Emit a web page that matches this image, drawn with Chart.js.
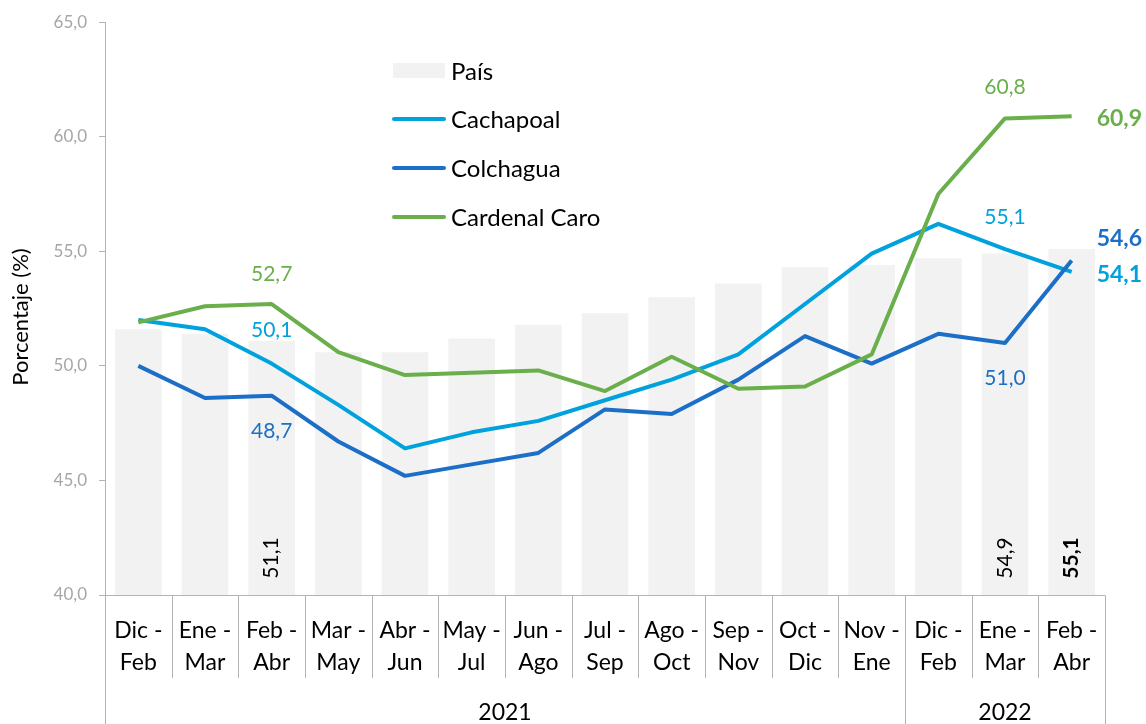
<!DOCTYPE html>
<html><head><meta charset="utf-8">
<script src="https://cdn.jsdelivr.net/npm/chart.js@4.4.0/dist/chart.umd.min.js"></script>
<style>html,body{margin:0;padding:0;background:#fff;}#wrap{width:1146px;height:724px;position:relative;}</style>
</head><body><div id="wrap"><canvas id="c" width="1146" height="724"></canvas></div>
<script>
// ---- data ----
const catLine1 = ['Dic -','Ene -','Feb -','Mar -','Abr -','May -','Jun -','Jul -','Ago -','Sep -','Oct -','Nov -','Dic -','Ene -','Feb -'];
const catLine2 = ['Feb','Mar','Abr','May','Jun','Jul','Ago','Sep','Oct','Nov','Dic','Ene','Feb','Mar','Abr'];
const years = ['2021','2022'];
const yearSpans = [12, 3];
const pais = [51.6,51.4,51.1,50.6,50.6,51.2,51.8,52.3,53.0,53.6,54.3,54.4,54.7,54.9,55.1];
const cachapoal = [52.0,51.6,50.1,48.3,46.4,47.1,47.6,48.5,49.4,50.5,52.7,54.9,56.2,55.1,54.1];
const colchagua = [50.0,48.6,48.7,46.7,45.2,45.7,46.2,48.1,47.9,49.4,51.3,50.1,51.4,51.0,54.6];
const cardenalCaro = [51.9,52.6,52.7,50.6,49.6,49.7,49.8,48.9,50.4,49.0,49.1,50.5,57.5,60.8,60.9];
const yTicks = [40,45,50,55,60,65];
const yTitle = 'Porcentaje (%)';

// ---- styles ----
const FONT = 'Lato';
const C_PAIS = '#f2f2f2', C_CACH = '#00a2de', C_COLC = '#1c6fc6', C_CARD = '#6aaf4c';
const AXIS = '#b3b3b3';
const fmt = v => v.toFixed(1).replace('.', ',');

// labels: dataset index, point index, dx, dy, align, bold, size
const lineLabels = [
  {ds:3, i:2, dx:0, dy:-30, align:'center', bold:false, size:21},
  {ds:1, i:2, dx:0, dy:-33, align:'center', bold:false, size:21},
  {ds:2, i:2, dx:0, dy:36, align:'center', bold:false, size:21},
  {ds:3, i:13, dx:0, dy:-31, align:'center', bold:false, size:21},
  {ds:1, i:13, dx:0, dy:-32, align:'center', bold:false, size:21},
  {ds:2, i:13, dx:0, dy:35, align:'center', bold:false, size:21},
  {ds:3, i:14, dx:25, dy:2, align:'left', bold:true, size:23},
  {ds:2, i:14, dx:25, dy:-22, align:'left', bold:true, size:23},
  {ds:1, i:14, dx:25, dy:3, align:'left', bold:true, size:23}
];
const barLabels = [
  {i:2, bold:false}, {i:13, bold:false}, {i:14, bold:true}
];

const decor = {
  id: 'decor',
  afterDraw(chart) {
    const ctx = chart.ctx, ca = chart.chartArea;
    const xs = chart.scales.x, ys = chart.scales.y;
    const n = catLine1.length;
    const H = chart.height;
    ctx.save();
    // x axis line
    ctx.strokeStyle = AXIS; ctx.lineWidth = 1;
    const yb = Math.round(ca.bottom) + 0.5;
    ctx.beginPath(); ctx.moveTo(ca.left, yb); ctx.lineTo(ca.right, yb); ctx.stroke();
    // separators
    const bounds = [];
    for (let i = 0; i <= n; i++) {
      let x;
      if (i === 0) x = ca.left; else if (i === n) x = ca.right;
      else x = (xs.getPixelForValue(i - 1) + xs.getPixelForValue(i)) / 2;
      bounds.push(x);
    }
    const yearBounds = [0]; yearSpans.reduce((a, s) => { yearBounds.push(a + s); return a + s; }, 0);
    bounds.forEach((x, i) => {
      const long = yearBounds.includes(i);
      const px = Math.round(x) + 0.5;
      ctx.beginPath(); ctx.moveTo(px, yb); ctx.lineTo(px, long ? H : 678); ctx.stroke();
    });
    // y axis extension
    const lx = Math.round(ca.left) + 0.5;
    ctx.beginPath(); ctx.moveTo(lx, ca.bottom); ctx.lineTo(lx, H); ctx.stroke();
    // category labels
    ctx.fillStyle = '#000';
    ctx.font = `23px ${FONT}`;
    ctx.textAlign = 'center'; ctx.textBaseline = 'middle';
    for (let i = 0; i < n; i++) {
      const x = xs.getPixelForValue(i);
      ctx.fillText(catLine1[i], x, 631);
      ctx.fillText(catLine2[i], x, 663);
    }
    // years
    yearSpans.forEach((s, k) => {
      const x = (bounds[yearBounds[k]] + bounds[yearBounds[k + 1]]) / 2;
      ctx.fillText(years[k], x, 713);
    });
    // y title
    ctx.save();
    ctx.translate(21, 317); ctx.rotate(-Math.PI / 2);
    ctx.font = `22px ${FONT}`;
    ctx.fillText(yTitle, 0, 0);
    ctx.restore();
    // legend
    const ds = chart.data.datasets;
    const legendOrder = [0, 1, 2, 3];
    const ly = [71, 119, 168, 217];
    ctx.font = `24px ${FONT}`;
    ctx.textAlign = 'left';
    legendOrder.forEach((d, k) => {
      const item = ds[d];
      if (item.type === 'bar') {
        ctx.fillStyle = item.backgroundColor;
        ctx.fillRect(393, ly[k] - 8, 52, 15);
      } else {
        ctx.strokeStyle = item.borderColor; ctx.lineWidth = 4; ctx.lineCap = 'round';
        ctx.beginPath(); ctx.moveTo(394, ly[k]); ctx.lineTo(444, ly[k]); ctx.stroke();
      }
      ctx.fillStyle = '#000';
      ctx.fillText(item.label, 451, ly[k] + 1);
    });
    // line data labels
    lineLabels.forEach(l => {
      const meta = chart.getDatasetMeta(l.ds);
      const pt = meta.data[l.i];
      const v = ds[l.ds].data[l.i];
      ctx.fillStyle = ds[l.ds].borderColor;
      ctx.font = `${l.bold ? 'bold ' : ''}${l.size}px ${FONT}`;
      ctx.textAlign = l.align; ctx.textBaseline = 'middle';
      ctx.fillText(fmt(v), pt.x + l.dx, pt.y + l.dy);
    });
    // bar labels (rotated)
    barLabels.forEach(b => {
      const x = xs.getPixelForValue(b.i);
      const v = ds[0].data[b.i];
      ctx.save();
      ctx.translate(x, ca.bottom - 37); ctx.rotate(-Math.PI / 2);
      ctx.fillStyle = '#000';
      ctx.font = `${b.bold ? 'bold ' : ''}21px ${FONT}`;
      ctx.textAlign = 'center'; ctx.textBaseline = 'middle';
      ctx.fillText(fmt(v), 0, 0);
      ctx.restore();
    });
    ctx.restore();
  }
};

function build() {
  new Chart(document.getElementById('c'), {
    data: {
      labels: catLine1.map((a, i) => a + ' ' + catLine2[i]),
      datasets: [
        {type:'bar', label:'País', data:pais, backgroundColor:C_PAIS, barPercentage:0.7, categoryPercentage:1.0, order:10},
        {type:'line', label:'Cachapoal', data:cachapoal, borderColor:C_CACH, backgroundColor:C_CACH, borderWidth:4, pointRadius:0, tension:0, fill:false, order:3, borderJoinStyle:'round'},
        {type:'line', label:'Colchagua', data:colchagua, borderColor:C_COLC, backgroundColor:C_COLC, borderWidth:4, pointRadius:0, tension:0, fill:false, order:2, borderJoinStyle:'round'},
        {type:'line', label:'Cardenal Caro', data:cardenalCaro, borderColor:C_CARD, backgroundColor:C_CARD, borderWidth:4, pointRadius:0, tension:0, fill:false, order:1, borderJoinStyle:'round'}
      ]
    },
    options: {
      responsive:false, animation:false, devicePixelRatio:1,
      layout: {padding:{top:20, right:41, bottom:129, left:0}},
      plugins: {legend:{display:false}, tooltip:{enabled:false}},
      scales: {
        x: {display:false, offset:true},
        y: {
          min:40, max:65,
          afterFit(s){ s.width = 105; },
          afterBuildTicks(s){ s.ticks = yTicks.map(v => ({value:v})); },
          ticks: {color:'#a6a6a6', font:{family:FONT, size:17}, padding:12, callback: v => fmt(v)},
          grid: {display:true, drawOnChartArea:false, drawTicks:true, tickLength:6, color:AXIS},
          border: {display:true, color:AXIS, width:1}
        }
      }
    },
    plugins: [decor]
  });
}
if (document.fonts && document.fonts.load) {
  Promise.all([document.fonts.load(`23px ${FONT}`), document.fonts.load(`bold 23px ${FONT}`)]).then(build, build);
} else build();
</script>
</body></html>
